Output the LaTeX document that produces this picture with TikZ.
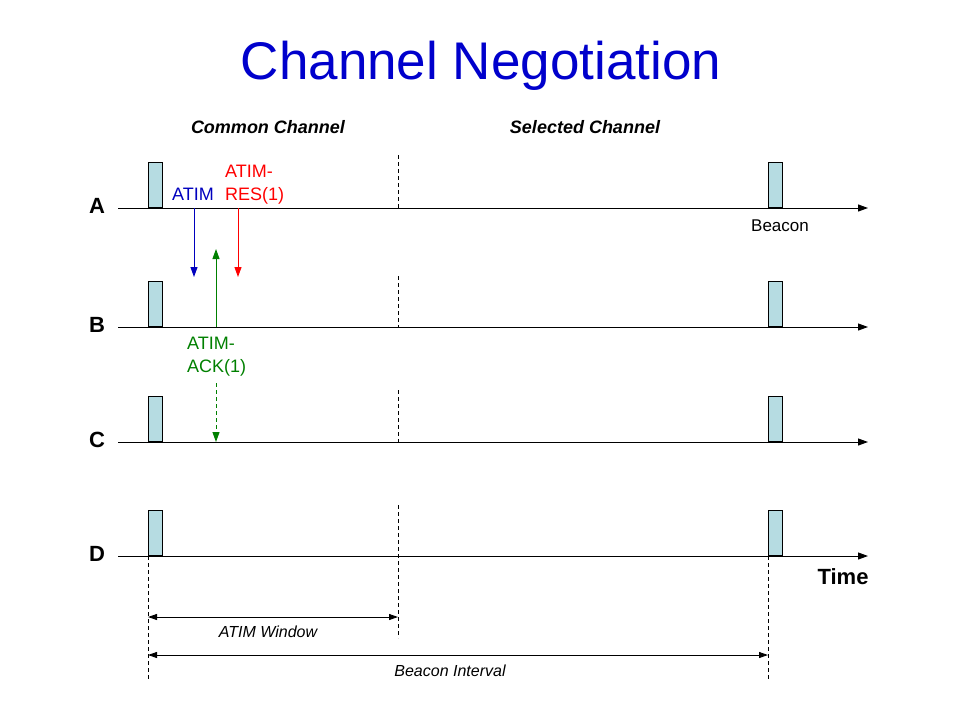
\documentclass[tikz,border=0pt]{standalone}
\usepackage{fontspec}
\setmainfont{Liberation Sans}
\usetikzlibrary{arrows.meta}
\definecolor{titleblue}{RGB}{0,0,204}
\definecolor{atimblue}{RGB}{0,0,190}
\definecolor{resred}{RGB}{255,0,0}
\definecolor{ackgreen}{RGB}{0,128,0}
\definecolor{boxfill}{RGB}{182,220,226}
\tikzset{
  timeline/.style={line width=1pt,-{Triangle[length=10pt,width=7pt]}},
  beaconbox/.style={draw,line width=1pt,fill=boxfill,minimum width=14pt,minimum height=45pt,inner sep=0pt,anchor=south west},
  rowlabel/.style={font=\fontsize{22}{26}\selectfont\bfseries,inner sep=0pt},
  vdash/.style={line width=0.8pt,dash pattern=on 4pt off 3pt},
  msg/.style={line width=1pt,-{Triangle[length=10pt,width=7pt]}},
  msglabel/.style={font=\fontsize{18}{23}\selectfont,inner sep=0pt,align=left,anchor=west},
  span/.style={line width=0.9pt,{Triangle[length=9pt,width=6pt]}-{Triangle[length=9pt,width=6pt]}},
  spanlabel/.style={font=\fontsize{16}{19}\selectfont\itshape,inner sep=0pt},
  chanlabel/.style={font=\fontsize{18}{21}\selectfont\bfseries\itshape,inner sep=0pt}
}
\begin{document}
\begin{tikzpicture}[x=1pt,y=-1pt]
\useasboundingbox (0,0) rectangle (960,720);
% title
\node[text=titleblue,font=\fontsize{53}{62}\selectfont,inner sep=0pt] (title) at (481,66) {Channel Negotiation};
\node[chanlabel] (common) at (268,127) {Common Channel};
\node[chanlabel] (selected) at (585,127) {Selected Channel};
% timelines
\foreach \r/\y in {A/208,B/327,C/442,D/556}{
  \coordinate (\r s) at (118,\y);
  \coordinate (\r e) at (868,\y);
  \draw[timeline] (\r s) -- (\r e);
  \node[rowlabel] (\r lab) at (97,\y-2) {\r};
  \node[beaconbox] (\r b1) at (148,\y) {};
  \node[beaconbox] (\r b2) at (768,\y) {};
}
% dashed verticals at end of ATIM window
\coordinate (Wa) at (398,155);
\coordinate (Wb) at (398,276);
\coordinate (Wc) at (398,390);
\coordinate (Wd) at (398,505);
\coordinate (Wend) at (398,638);
\draw[vdash] (Wa) -- (398,208);
\draw[vdash] (Wb) -- (398,327);
\draw[vdash] (Wc) -- (398,442);
\draw[vdash] (Wd) -- (Wend);
% dashed verticals below D
\coordinate (L1) at (148,680);
\coordinate (R1) at (768,680);
\draw[vdash] (Db1.south west) -- (L1);
\draw[vdash] (Db2.south west) -- (R1);
% spans
\coordinate (ws) at (148,617);
\coordinate (we) at (398,617);
\draw[span] (ws) -- (we);
\node[spanlabel] (wlab) at (268,632) {ATIM Window};
\coordinate (bs) at (148,655);
\coordinate (be) at (768,655);
\draw[span] (bs) -- (be);
\node[spanlabel] (blab) at (450,671) {Beacon Interval};
% beacon and time labels
\node[font=\fontsize{17}{20}\selectfont,inner sep=0pt] (beacon) at (780,226) {Beacon};
\node[rowlabel] (time) at (843,577) {Time};
% messages
\coordinate (atA) at (194,208);
\coordinate (atB) at (194,277);
\draw[msg,atimblue] (atA) -- (atB);
\node[msglabel,text=atimblue] (atimlab) at (172,194) {ATIM};
\coordinate (resA) at (238,208);
\coordinate (resB) at (238,277);
\draw[msg,resred] (resA) -- (resB);
\node[msglabel,text=resred] (reslab) at (225,185) {ATIM-\\RES(1)};
\coordinate (ackB) at (216,327);
\coordinate (ackA) at (216,249);
\draw[msg,ackgreen] (ackB) -- (ackA);
\node[msglabel,text=ackgreen] (acklab) at (187,357) {ATIM-\\ACK(1)};
\coordinate (ackC1) at (216,383);
\coordinate (ackC2) at (216,442);
\draw[msg,ackgreen,dash pattern=on 4pt off 3pt] (ackC1) -- (ackC2);
\end{tikzpicture}
\end{document}
